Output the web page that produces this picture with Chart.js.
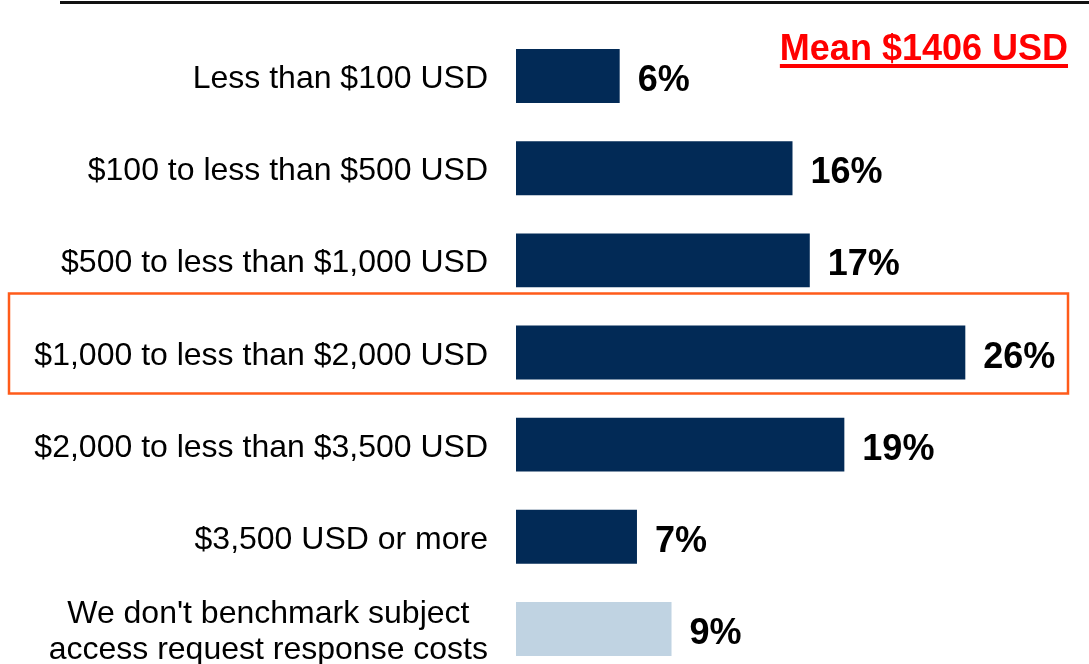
<!DOCTYPE html>
<html>
<head>
<meta charset="utf-8">
<script src="https://cdn.jsdelivr.net/npm/chart.js@4/dist/chart.umd.min.js"></script>
<style>
  html, body { margin: 0; padding: 0; background: #fff; overflow: hidden; }
  #wrap { position: relative; width: 1089px; height: 700px; }
</style>
</head>
<body>
<div id="wrap"><canvas id="cost-chart"></canvas></div>
<script>
// --- Data ---
const categories = [
  ['Less than $100 USD'],
  ['$100 to less than $500 USD'],
  ['$500 to less than $1,000 USD'],
  ['$1,000 to less than $2,000 USD'],
  ['$2,000 to less than $3,500 USD'],
  ['$3,500 USD or more'],
  ["We don't benchmark subject", 'access request response costs'],
];
const shares = [6, 16, 17, 26, 19, 7, 9];
const barColors = ['#022a56', '#022a56', '#022a56', '#022a56', '#022a56', '#022a56', '#c0d3e2'];
const highlightIndex = 3;
const meanText = 'Mean $1406 USD';

// --- Decorations: rule on top, category labels, value labels, highlight box, mean ---
const decorations = {
  id: 'decorations',
  afterDatasetsDraw(chart) {
    const { ctx, scales: { y } } = chart;
    const meta = chart.getDatasetMeta(0);
    ctx.save();

    // top rule
    ctx.fillStyle = '#111';
    ctx.fillRect(60, 1, 1029, 3);

    // category labels, right edge at 488; multi-line labels are centred on their block
    ctx.fillStyle = '#000';
    ctx.font = '32px "Liberation Sans", Arial, sans-serif';
    ctx.textBaseline = 'alphabetic';
    categories.forEach((lines, i) => {
      const cy = y.getPixelForValue(i);
      if (lines.length === 1) {
        ctx.textAlign = 'right';
        ctx.fillText(lines[0], 488, cy + 12);
      } else {
        const widths = lines.map(l => ctx.measureText(l).width);
        const maxW = Math.max(...widths);
        const mid = 488 - maxW / 2;
        ctx.textAlign = 'center';
        lines.forEach((l, k) => {
          ctx.fillText(l, mid, cy + 12 + (k - (lines.length - 1) / 2) * 36);
        });
      }
    });

    // value labels
    ctx.font = 'bold 36px "Liberation Sans", Arial, sans-serif';
    ctx.textAlign = 'left';
    meta.data.forEach((bar, i) => {
      ctx.fillText(shares[i] + '%', bar.x + 18, bar.y + 15);
    });

    // highlight box round one row
    const hy = y.getPixelForValue(highlightIndex);
    ctx.strokeStyle = '#ff5b1a';
    ctx.lineWidth = 2.5;
    ctx.strokeRect(9, hy - 59, 1059, 100);

    // mean callout
    ctx.fillStyle = '#ff0000';
    ctx.font = 'bold 36px "Liberation Sans", Arial, sans-serif';
    ctx.textAlign = 'right';
    ctx.fillText(meanText, 1068, 60);
    const w = ctx.measureText(meanText).width;
    ctx.fillRect(1068 - w, 64, w, 4);

    ctx.restore();
  }
};

new Chart(document.getElementById('cost-chart'), {
  type: 'bar',
  data: {
    labels: categories.map(c => c.join(' ')),
    datasets: [{
      data: shares,
      backgroundColor: barColors,
      borderWidth: 0,
      categoryPercentage: 1,
      barPercentage: 0.585,
    }],
  },
  options: {
    indexAxis: 'y',
    responsive: true,
    maintainAspectRatio: false,
    animation: false,
    layout: { padding: { left: 516, right: 20, top: 30, bottom: 25 } },
    scales: {
      x: { display: false, min: 0, max: 32 },
      y: { display: false },
    },
    plugins: { legend: { display: false }, tooltip: { enabled: false } },
  },
  plugins: [decorations],
});
</script>
</body>
</html>
